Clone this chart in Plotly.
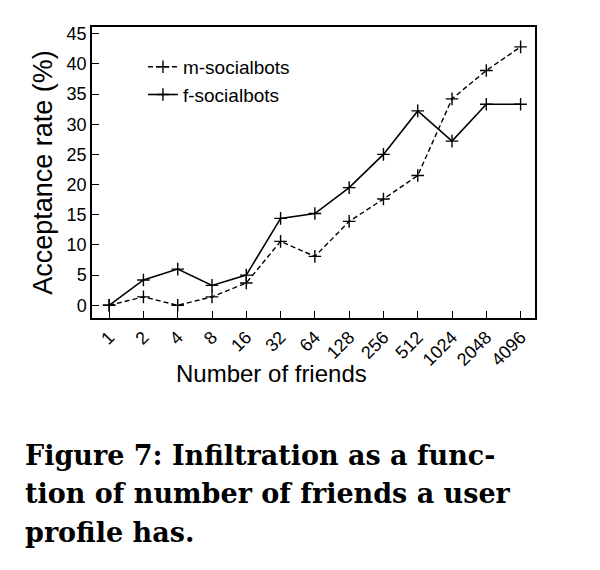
import plotly.graph_objects as go

# friends count categories and acceptance rates (%)
friends = ["1", "2", "4", "8", "16", "32", "64", "128", "256", "512", "1024", "2048", "4096"]
m_socialbots = [0, 1.4, 0, 1.4, 3.7, 10.6, 8.1, 13.9, 17.6, 21.5, 34.2, 38.9, 42.8]
f_socialbots = [0, 4.2, 6.0, 3.3, 5.0, 14.4, 15.2, 19.5, 25.0, 32.2, 27.2, 33.3, 33.3]

caption_lines = ["Figure 7: Infiltration as a func-",
                 "tion of number of friends a user",
                 "profile has."]
caption_y = [-0.4725, -0.603, -0.737]

fig = go.Figure()
fig.add_trace(go.Scatter(x=friends, y=m_socialbots, name="m-socialbots", mode="lines+markers",
                         line=dict(color="black", width=1.4, dash="5px,3px"),
                         marker=dict(symbol="cross-thin", size=9, line=dict(color="black", width=1.4))))
fig.add_trace(go.Scatter(x=friends, y=f_socialbots, name="f-socialbots", mode="lines+markers",
                         line=dict(color="black", width=1.6),
                         marker=dict(symbol="cross-thin", size=9, line=dict(color="black", width=1.4))))

fig.update_layout(
    width=600, height=570,
    margin=dict(l=84, r=73, t=19, b=260),
    plot_bgcolor="white", paper_bgcolor="white",
    font=dict(family="Liberation Sans", color="black", size=18),
    showlegend=True,
    legend=dict(x=0.115, y=0.928, xanchor="left", yanchor="top", bgcolor="rgba(0,0,0,0)",
                font=dict(size=19), tracegroupgap=0),
    xaxis=dict(type="category", range=[-0.5, 12.42], showgrid=False, showline=True, mirror=True,
               linecolor="black", linewidth=1.5, ticks="inside", ticklen=7, tickcolor="black",
               tickangle=-45, tickfont=dict(size=18), automargin=False),
    yaxis=dict(range=[-2.1, 46.1], tickvals=list(range(0, 46, 5)), showgrid=False, zeroline=False,
               showline=True, mirror=True, linecolor="black", linewidth=1.5, automargin=False,
               ticks="inside", ticklen=7, tickcolor="black", tickfont=dict(size=18),
               title=dict(text="Acceptance rate (%)", font=dict(size=27), standoff=6)),
)

# x axis title sits left of centre in the original, so place it by hand
fig.add_annotation(text="Number of friends", xref="paper", yref="paper", x=0.406, y=-0.1924,
                   xanchor="center", yanchor="middle", showarrow=False, font=dict(size=24))

for line, yy in zip(caption_lines, caption_y):
    fig.add_annotation(text=line, xref="paper", yref="paper", x=-0.1558, y=yy,
                       xanchor="left", yanchor="middle", align="left", showarrow=False,
                       font=dict(family="DejaVu Serif", size=27, color="black", weight="bold"))

fig.write_html("out.html")
